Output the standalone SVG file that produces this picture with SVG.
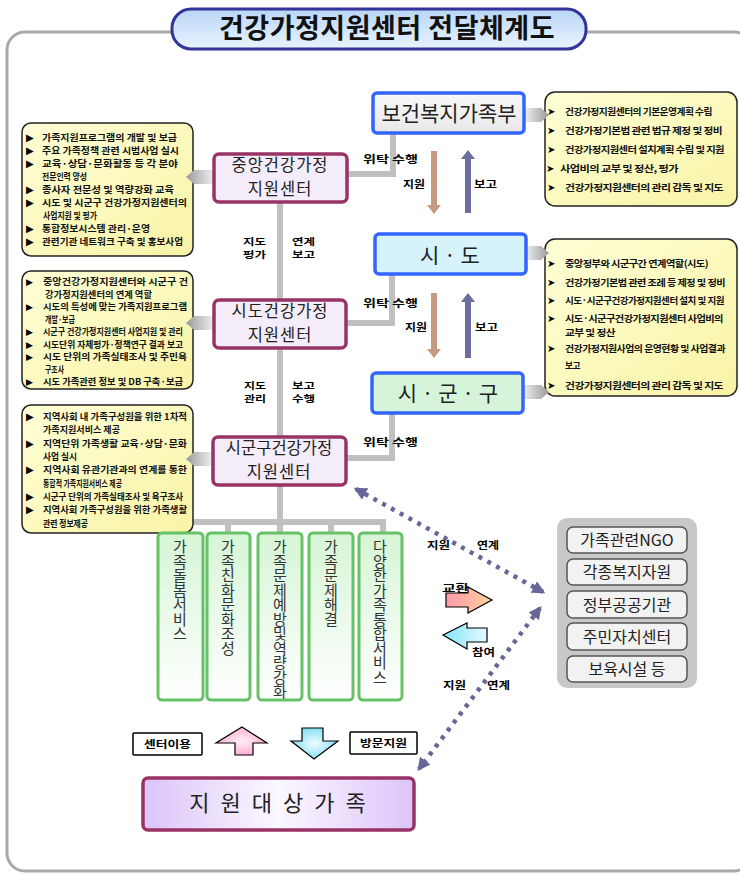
<svg xmlns="http://www.w3.org/2000/svg" width="740" height="874" viewBox="0 0 740 874">
<style>
text{font-family:"Noto Sans CJK KR","Noto Sans",sans-serif}
.yb{fill:url(#gy);stroke:#222;stroke-width:1.5}
.yt{font-size:9px;font-weight:bold;fill:#111}
.yt2{font-size:8.6px;font-weight:bold;fill:#111}
.yt3{font-size:9.1px;font-weight:bold;fill:#111}
.ytr{font-size:9.5px;font-weight:bold;fill:#111;letter-spacing:-0.5px}
.bul{font-family:"DejaVu Sans",sans-serif;font-size:10px;fill:#000}
.bul2{font-family:"DejaVu Sans",sans-serif;font-size:9px;fill:#000}
.gov{stroke:#3366ff;stroke-width:3.5}
.ctr{fill:#f4ecf8;stroke:#993366;stroke-width:3.5}
.nt{font-size:16.5px;fill:#222;text-anchor:middle}
.gt{font-size:21px;fill:#222;text-anchor:middle}
.conn{stroke:#c0c0c0;stroke-width:6;fill:none}
.lbl{font-size:10.5px;font-weight:bold;fill:#000}
.lbs{font-size:9px;font-weight:bold;fill:#000}
.dot{stroke:#666699;stroke-width:4.5;stroke-dasharray:4 6;fill:none}
.col{fill:url(#gg);stroke:#66c266;stroke-width:3}
.vt{font-size:15px;fill:#333;writing-mode:vertical-rl;letter-spacing:-0.5px}
.ib{fill:#f2f2f2;stroke:#555;stroke-width:1.5}
.it{font-size:16px;fill:#222;text-anchor:middle}
.notch{fill:url(#gn)}
.wb{fill:#fff;stroke:#000;stroke-width:1.5}
</style>
<defs>
<linearGradient id="gy" x1="0" y1="0" x2="1" y2="1"><stop offset="0" stop-color="#ffffd6"/><stop offset="1" stop-color="#f8f3a6"/></linearGradient>
<linearGradient id="gt" x1="0" y1="0" x2="0" y2="1"><stop offset="0" stop-color="#b8d6f6"/><stop offset="1" stop-color="#eaf4ff"/></linearGradient>
<linearGradient id="gg" x1="0" y1="0" x2="0" y2="1"><stop offset="0" stop-color="#d6f5d6"/><stop offset="1" stop-color="#ffffff"/></linearGradient>
<linearGradient id="gf" x1="0" y1="0" x2="1" y2="0"><stop offset="0" stop-color="#dcc4fa"/><stop offset="0.5" stop-color="#fbf8ff"/><stop offset="1" stop-color="#dcc4fa"/></linearGradient>
<linearGradient id="gx" x1="0" y1="0" x2="1" y2="0"><stop offset="0" stop-color="#ff9aa8"/><stop offset="1" stop-color="#ffd0a0"/></linearGradient>
<linearGradient id="gc" x1="0" y1="0" x2="1" y2="0"><stop offset="0" stop-color="#7fe6fa"/><stop offset="1" stop-color="#e6faff"/></linearGradient>
<radialGradient id="gp"><stop offset="0" stop-color="#fff0f8"/><stop offset="1" stop-color="#ffaed4"/></radialGradient>
<radialGradient id="gb"><stop offset="0" stop-color="#f0fcff"/><stop offset="1" stop-color="#86e0f6"/></radialGradient>
<linearGradient id="gn" x1="0" y1="0" x2="1" y2="0"><stop offset="0" stop-color="#9a9a9a"/><stop offset="1" stop-color="#eeeeee"/></linearGradient>
<linearGradient id="gnr" x1="1" y1="0" x2="0" y2="0"><stop offset="0" stop-color="#9a9a9a"/><stop offset="1" stop-color="#eeeeee"/></linearGradient>
<linearGradient id="gw" x1="0" y1="0" x2="0" y2="1"><stop offset="0" stop-color="#f8f8f8"/><stop offset="1" stop-color="#e8e8e8"/></linearGradient>
<marker id="ah" viewBox="0 0 10 10" refX="8" refY="5" markerWidth="13" markerHeight="13" markerUnits="userSpaceOnUse" orient="auto-start-reverse"><path d="M0,0 L10,5 L0,10 z" fill="#666699"/></marker>
</defs>

<rect x="7" y="32" width="745" height="839" rx="18" fill="none" stroke="#a8a8a8" stroke-width="3"/>

<g id="title">
<rect x="172" y="9" width="414" height="40" rx="19" fill="url(#gt)" stroke="#333399" stroke-width="3"/>
<text x="387" y="38" font-size="27" font-weight="bold" fill="#111" text-anchor="middle" letter-spacing="0.5">건강가정지원센터 전달체계도</text>
</g>

<g id="connectors">
<path class="conn" d="M347,174 H393 V134"/>
<path class="conn" d="M280,202 V300"/>
<path class="conn" d="M346,323 H392 V274"/>
<path class="conn" d="M280,348 V437"/>
<path class="conn" d="M346,458 H392 V413"/>
<path class="conn" d="M280,485 V522 M179,533 V522 H383 V533 M228,522 V533 M280,522 V533 M331,522 V533"/>
<polygon points="431,151 437,151 437,205 441,205 434,214 427,205 431,205" fill="#c49a80"/>
<polygon points="465,213 471,213 471,159 475,159 468,150 461,159 465,159" fill="#6d6da0"/>
<polygon points="431,293 437,293 437,349 441,349 434,358 427,349 431,349" fill="#c49a80"/>
<polygon points="465,358 471,358 471,302 475,302 468,293 461,302 465,302" fill="#6d6da0"/>
<line class="dot" x1="356" y1="489" x2="543" y2="592" marker-start="url(#ah)" marker-end="url(#ah)"/>
<line class="dot" x1="540" y1="608" x2="419" y2="769" marker-start="url(#ah)" marker-end="url(#ah)"/>
<text class="lbl" x="363" y="163" textLength="55" lengthAdjust="spacingAndGlyphs">위탁 수행</text>
<text class="lbl" x="403" y="188" textLength="22" lengthAdjust="spacingAndGlyphs">지원</text>
<text class="lbl" x="474" y="188" textLength="23" lengthAdjust="spacingAndGlyphs">보고</text>
<text class="lbs"><tspan x="243" y="245" textLength="23" lengthAdjust="spacingAndGlyphs">지도</tspan><tspan x="243" y="258" textLength="23" lengthAdjust="spacingAndGlyphs">평가</tspan></text>
<text class="lbs"><tspan x="292" y="245" textLength="23" lengthAdjust="spacingAndGlyphs">연계</tspan><tspan x="292" y="258" textLength="23" lengthAdjust="spacingAndGlyphs">보고</tspan></text>
<text class="lbl" x="363" y="307" textLength="55" lengthAdjust="spacingAndGlyphs">위탁 수행</text>
<text class="lbl" x="405" y="331" textLength="22" lengthAdjust="spacingAndGlyphs">지원</text>
<text class="lbl" x="475" y="331" textLength="23" lengthAdjust="spacingAndGlyphs">보고</text>
<text class="lbs"><tspan x="244" y="389" textLength="22" lengthAdjust="spacingAndGlyphs">지도</tspan><tspan x="244" y="402" textLength="22" lengthAdjust="spacingAndGlyphs">관리</tspan></text>
<text class="lbs"><tspan x="292" y="389" textLength="23" lengthAdjust="spacingAndGlyphs">보고</tspan><tspan x="292" y="402" textLength="23" lengthAdjust="spacingAndGlyphs">수행</tspan></text>
<text class="lbl" x="363" y="446" textLength="55" lengthAdjust="spacingAndGlyphs">위탁 수행</text>
<text class="lbl" x="427" y="549" textLength="23" lengthAdjust="spacingAndGlyphs">지원</text>
<text class="lbl" x="477" y="549" textLength="22" lengthAdjust="spacingAndGlyphs">연계</text>
<text class="lbl" x="443" y="689" textLength="23" lengthAdjust="spacingAndGlyphs">지원</text>
<text class="lbl" x="487" y="689" textLength="23" lengthAdjust="spacingAndGlyphs">연계</text>
</g>

<g id="exchange">
<polygon points="446,593 468,593 468,587 492,600 468,613 468,607 446,607" fill="url(#gx)" stroke="#000" stroke-width="1.2"/>
<text class="lbl" x="442" y="592" textLength="27" lengthAdjust="spacingAndGlyphs">교환</text>
</g>
<g id="participation">
<polygon points="487,628 467,628 467,623 443,635 467,649 467,642 487,642" fill="url(#gc)" stroke="#000" stroke-width="1.2"/>
<text class="lbl" x="472" y="656" textLength="23" lengthAdjust="spacingAndGlyphs">참여</text>
</g>

<g id="info-central">
<rect class="yb" x="22" y="123" width="171" height="133" rx="9"/>
<polygon class="notch" points="213,170 194,170 186,177 194,184 213,184"/>
<text class="bul"><tspan x="26" y="141">▶</tspan><tspan x="26" y="154">▶</tspan><tspan x="26" y="167">▶</tspan><tspan x="26" y="193">▶</tspan><tspan x="26" y="206">▶</tspan><tspan x="26" y="232">▶</tspan><tspan x="26" y="245">▶</tspan></text>
<text class="yt">
<tspan x="42" y="141" textLength="135" lengthAdjust="spacingAndGlyphs">가족지원프로그램의 개발 및 보급</tspan>
<tspan x="42" y="154" textLength="137" lengthAdjust="spacingAndGlyphs">주요 가족정책 관련 시범사업 실시</tspan>
<tspan x="42" y="167" textLength="136" lengthAdjust="spacingAndGlyphs">교육·상담·문화활동 등 각 분야</tspan>
<tspan x="42" y="180" textLength="45" lengthAdjust="spacingAndGlyphs">전문인력 양성</tspan>
<tspan x="42" y="193" textLength="132" lengthAdjust="spacingAndGlyphs">종사자 전문성 및 역량강화 교육</tspan>
<tspan x="42" y="206" textLength="145" lengthAdjust="spacingAndGlyphs">시도 및 시군구 건강가정지원센터의</tspan>
<tspan x="43" y="219" textLength="54" lengthAdjust="spacingAndGlyphs">사업지원 및 평가</tspan>
<tspan x="42" y="232" textLength="108" lengthAdjust="spacingAndGlyphs">통합정보시스템 관리·운영</tspan>
<tspan x="42" y="245" textLength="141" lengthAdjust="spacingAndGlyphs">관련기관 네트워크 구축 및 홍보사업</tspan>
</text>
</g>

<g id="info-sido-center">
<rect class="yb" x="22" y="271" width="171" height="118" rx="9"/>
<polygon class="notch" points="213,316 194,316 186,323 194,330 213,330"/>
<text class="bul2"><tspan x="26" y="285">▶</tspan><tspan x="26" y="310">▶</tspan><tspan x="26" y="335">▶</tspan><tspan x="26" y="347.5">▶</tspan><tspan x="26" y="360">▶</tspan><tspan x="26" y="385">▶</tspan></text>
<text class="yt2">
<tspan x="43" y="285" textLength="145" lengthAdjust="spacingAndGlyphs">중앙건강가정지원센터와 시군구 건</tspan>
<tspan x="45" y="297.5" textLength="107" lengthAdjust="spacingAndGlyphs">강가정지원센터의 연계 역할</tspan>
<tspan x="43" y="310" textLength="144" lengthAdjust="spacingAndGlyphs">시도의 특성에 맞는 가족지원프로그램</tspan>
<tspan x="45" y="322.5" textLength="30" lengthAdjust="spacingAndGlyphs">개발·보급</tspan>
<tspan x="43" y="335" textLength="140" lengthAdjust="spacingAndGlyphs">시군구 건강가정지원센터 사업지원 및 관리</tspan>
<tspan x="43" y="347.5" textLength="140" lengthAdjust="spacingAndGlyphs">시도단위 자체평가·정책연구 결과 보고</tspan>
<tspan x="43" y="360" textLength="144" lengthAdjust="spacingAndGlyphs">시도 단위의 가족실태조사 및 주민욕</tspan>
<tspan x="45" y="372.5" textLength="19" lengthAdjust="spacingAndGlyphs">구조사</tspan>
<tspan x="43" y="385" textLength="140" lengthAdjust="spacingAndGlyphs">시도 가족관련 정보 및 DB 구축·보급</tspan>
</text>
</g>

<g id="info-sigungu-center">
<rect class="yb" x="22" y="405" width="171" height="128" rx="9"/>
<polygon class="notch" points="212,452 194,452 186,459 194,466 212,466"/>
<text class="bul"><tspan x="26" y="420">▶</tspan><tspan x="26" y="446.5">▶</tspan><tspan x="26" y="473">▶</tspan><tspan x="26" y="500">▶</tspan><tspan x="26" y="513">▶</tspan></text>
<text class="yt3">
<tspan x="43" y="420" textLength="144" lengthAdjust="spacingAndGlyphs">지역사회 내 가족구성원을 위한 1차적</tspan>
<tspan x="43" y="433" textLength="77" lengthAdjust="spacingAndGlyphs">가족지원서비스 제공</tspan>
<tspan x="43" y="446.5" textLength="144" lengthAdjust="spacingAndGlyphs">지역단위 가족생활 교육·상담·문화</tspan>
<tspan x="43" y="460" textLength="34" lengthAdjust="spacingAndGlyphs">사업 실시</tspan>
<tspan x="43" y="473" textLength="144" lengthAdjust="spacingAndGlyphs">지역사회 유관기관과의 연계를 통한</tspan>
<tspan x="43" y="486.5" textLength="79" lengthAdjust="spacingAndGlyphs">통합적 가족지원서비스 제공</tspan>
<tspan x="43" y="500" textLength="140" lengthAdjust="spacingAndGlyphs">시군구 단위의 가족실태조사 및 욕구조사</tspan>
<tspan x="43" y="513" textLength="144" lengthAdjust="spacingAndGlyphs">지역사회 가족구성원을 위한 가족생활</tspan>
<tspan x="43" y="526.5" textLength="45" lengthAdjust="spacingAndGlyphs">관련 정보제공</tspan>
</text>
</g>

<g id="info-ministry">
<rect class="yb" x="545" y="92" width="192" height="114" rx="10"/>
<polygon fill="url(#gnr)" points="525,108 541,108 549,115 541,122 525,122"/>
<text class="bul"><tspan x="547" y="115">➤</tspan><tspan x="547" y="134">➤</tspan><tspan x="547" y="153">➤</tspan><tspan x="546" y="172">➤</tspan><tspan x="547" y="191">➤</tspan></text>
<text class="ytr">
<tspan x="565" y="115" textLength="147" lengthAdjust="spacingAndGlyphs">건강가정지원센터의 기본운영계획 수립</tspan>
<tspan x="565" y="134" textLength="157" lengthAdjust="spacingAndGlyphs">건강가정기본법 관련 법규 제정 및 정비</tspan>
<tspan x="565" y="153" textLength="159" lengthAdjust="spacingAndGlyphs">건강가정지원센터 설치계획 수립 및 지원</tspan>
<tspan x="560" y="172" textLength="118" lengthAdjust="spacingAndGlyphs">사업비의 교부 및 정산, 평가</tspan>
<tspan x="565" y="191" textLength="158" lengthAdjust="spacingAndGlyphs">건강가정지원센터의 관리 감독 및 지도</tspan>
</text>
</g>

<g id="info-local-gov">
<rect class="yb" x="545" y="239" width="192" height="157" rx="10"/>
<polygon fill="url(#gnr)" points="526,246 541,246 549,253 541,260 526,260"/>
<polygon fill="url(#gnr)" points="523,385 541,385 549,392 541,399 523,399"/>
<text class="bul"><tspan x="547" y="267">➤</tspan><tspan x="547" y="286">➤</tspan><tspan x="547" y="304">➤</tspan><tspan x="547" y="322">➤</tspan><tspan x="547" y="352">➤</tspan><tspan x="547" y="389">➤</tspan></text>
<text class="ytr">
<tspan x="565" y="267" textLength="143" lengthAdjust="spacingAndGlyphs">중앙정부와 시군구간 연계역할(시도)</tspan>
<tspan x="565" y="286" textLength="160" lengthAdjust="spacingAndGlyphs">건강가정기본법 관련 조례 등 제정 및 정비</tspan>
<tspan x="565" y="304" textLength="159" lengthAdjust="spacingAndGlyphs">시도·시군구건강가정지원센터 설치 및 지원</tspan>
<tspan x="565" y="322" textLength="158" lengthAdjust="spacingAndGlyphs">시도·시군구건강가정지원센터 사업비의</tspan>
<tspan x="565" y="336" textLength="50" lengthAdjust="spacingAndGlyphs">교부 및 정산</tspan>
<tspan x="565" y="352" textLength="160" lengthAdjust="spacingAndGlyphs">건강가정지원사업의 운영현황 및 사업결과</tspan>
<tspan x="565" y="369" textLength="15" lengthAdjust="spacingAndGlyphs">보고</tspan>
<tspan x="565" y="389" textLength="158" lengthAdjust="spacingAndGlyphs">건강가정지원센터의 관리 감독 및 지도</tspan>
</text>
</g>

<g id="ministry"><rect class="gov" x="373" y="93" width="151" height="40" rx="4" fill="url(#gw)"/><text class="gt" x="449" y="121" font-size="20">보건복지가족부</text></g>
<g id="sido"><rect class="gov" x="375" y="234" width="151" height="40" rx="4" fill="#d6f3fc"/><text class="gt" x="450" y="263" font-size="22">시 · 도</text></g>
<g id="sigungu"><rect class="gov" x="372" y="373" width="151" height="40" rx="4" fill="#d6f4da"/><text class="gt" x="448" y="401" font-size="22">시 · 군 · 구</text></g>

<g id="central-center"><rect class="ctr" x="214" y="154" width="133" height="48" rx="5"/><text class="nt"><tspan x="280" y="170.5" letter-spacing="1">중앙건강가정</tspan><tspan x="280" y="194.5" letter-spacing="1">지원센터</tspan></text></g>
<g id="sido-center"><rect class="ctr" x="214" y="300" width="132" height="48" rx="5"/><text class="nt"><tspan x="280" y="316.5" letter-spacing="1">시도건강가정</tspan><tspan x="280" y="340.5" letter-spacing="1">지원센터</tspan></text></g>
<g id="sigungu-center"><rect class="ctr" x="213" y="437" width="133" height="48" rx="5"/><text class="nt"><tspan x="279" y="453.5">시군구건강가정</tspan><tspan x="279" y="477.5" letter-spacing="1">지원센터</tspan></text></g>

<g id="svc1"><rect class="col" x="158" y="533" width="45" height="167" rx="4"/><text class="vt" x="180" y="539">가족돌봄서비스</text></g>
<g id="svc2"><rect class="col" x="207" y="533" width="43" height="167" rx="4"/><text class="vt" x="228" y="539">가족친화문화조성</text></g>
<g id="svc3"><rect class="col" x="258" y="533" width="44" height="167" rx="4"/><text class="vt" x="280" y="539">가족문제예방및역량강화</text></g>
<g id="svc4"><rect class="col" x="309" y="533" width="44" height="167" rx="4"/><text class="vt" x="331" y="539" letter-spacing="0">가족문제해결</text></g>
<g id="svc5"><rect class="col" x="359" y="533" width="43" height="167" rx="4"/><text class="vt" x="380" y="539" letter-spacing="0.3px">다양한가족통합서비스</text></g>

<g id="partners">
<rect x="557" y="518" width="140" height="170" rx="10" fill="#c8c8c8"/>
<rect class="ib" x="567" y="527" width="120" height="26" rx="6"/><text class="it" x="627" y="546">가족관련NGO</text>
<rect class="ib" x="567" y="559" width="120" height="26" rx="6"/><text class="it" x="627" y="578">각종복지자원</text>
<rect class="ib" x="567" y="591" width="120" height="27" rx="6"/><text class="it" x="627" y="611">정부공공기관</text>
<rect class="ib" x="567" y="623" width="120" height="27" rx="6"/><text class="it" x="627" y="643">주민자치센터</text>
<rect class="ib" x="567" y="656" width="120" height="26" rx="6"/><text class="it" x="627" y="675">보육시설 등</text>
</g>

<g id="center-use"><rect class="wb" x="133" y="733" width="69" height="22" rx="1"/><text class="lbl" x="144" y="748" textLength="47" lengthAdjust="spacingAndGlyphs">센터이용</text></g>
<g id="up-arrow"><polygon points="242,727 267,743 253,743 253,755 235,755 235,743 216,743" fill="url(#gp)" stroke="#000" stroke-width="1.2"/></g>
<g id="down-arrow"><polygon points="302,728 323,728 323,741 338,741 314,759 291,741 302,741" fill="url(#gb)" stroke="#000" stroke-width="1.2"/></g>
<g id="visit-support"><rect class="wb" x="350" y="732" width="67" height="22" rx="1"/><text class="lbl" x="360" y="747" textLength="47" lengthAdjust="spacingAndGlyphs">방문지원</text></g>
<g id="target-family"><rect x="143" y="778" width="271" height="52" rx="5" fill="url(#gf)" stroke="#993366" stroke-width="3.5"/><text x="283" y="811" font-size="22" fill="#222" text-anchor="middle" letter-spacing="11">지원대상가족</text></g>
</svg>
